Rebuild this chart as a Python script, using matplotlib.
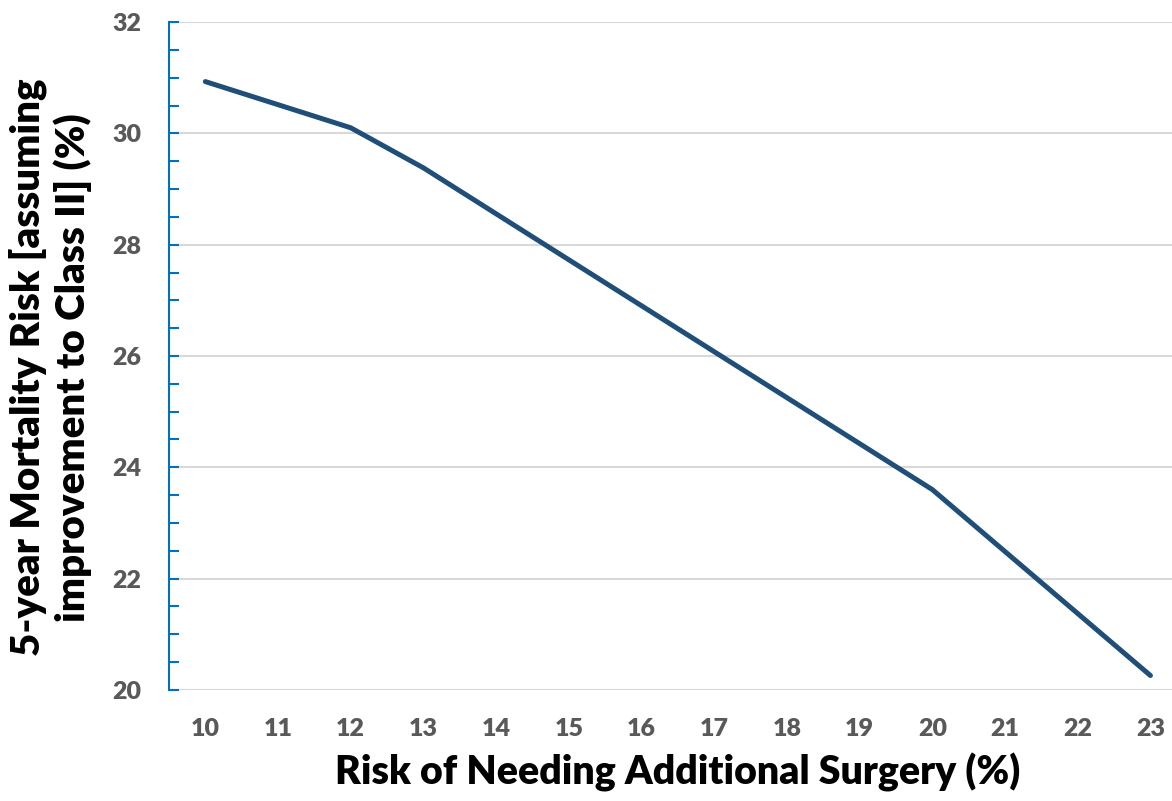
import numpy as np
import matplotlib.pyplot as plt
from matplotlib.ticker import MultipleLocator

# values
surgery_risk = [10, 12, 13, 20, 23]
mortality_risk = [30.93, 30.10, 29.38, 23.60, 20.26]
x_ticks = list(range(10, 24))

plt.rcParams['font.family'] = ['Lato', 'DejaVu Sans']

fig = plt.figure(figsize=(11.72, 8.01), dpi=100)
ax = fig.add_axes([0.1442, 0.1386, 0.8684, 0.8339])

# gridlines first so the line sits on top
ax.grid(True, axis='y', color='#d9d9d9', linewidth=1.5)
ax.set_axisbelow(True)

ax.plot(surgery_risk, mortality_risk, color='#1f4e79', linewidth=3.6,
        solid_capstyle='round', solid_joinstyle='round')

ax.set_xlim(9.5, 23.5)
ax.set_ylim(20, 32)
ax.set_xticks(x_ticks)
ax.set_xticklabels([str(t) for t in x_ticks])
ax.yaxis.set_major_locator(MultipleLocator(2))
ax.yaxis.set_minor_locator(MultipleLocator(0.5))

for s in ['top', 'right', 'bottom']:
    ax.spines[s].set_visible(False)
ax.spines['left'].set_color('#0070c0')
ax.spines['left'].set_linewidth(1.5)

ax.tick_params(axis='y', which='both', direction='in', color='#0070c0',
               width=1.5, length=7, pad=20, labelsize=18, labelcolor='#595959')
ax.tick_params(axis='x', length=0, pad=20, labelsize=18, labelcolor='#595959')
for lbl in ax.get_xticklabels() + ax.get_yticklabels():
    lbl.set_fontweight('heavy')

ax.set_xlabel('Risk of Needing Additional Surgery (%)', fontsize=28.3,
              fontweight='heavy', color='black')
ax.xaxis.label.set_va('center')
ax.xaxis.set_label_coords(0.5, -0.1227)

ax.set_ylabel('5-year Mortality Risk [assuming\nimprovement to Class II] (%)',
              fontsize=29, fontweight='heavy', color='black',
              multialignment='center', linespacing=1.2)
ax.yaxis.label.set_va('center')
ax.yaxis.set_label_coords(-0.117, 0.483)

fig.savefig('out.png', dpi=100)
